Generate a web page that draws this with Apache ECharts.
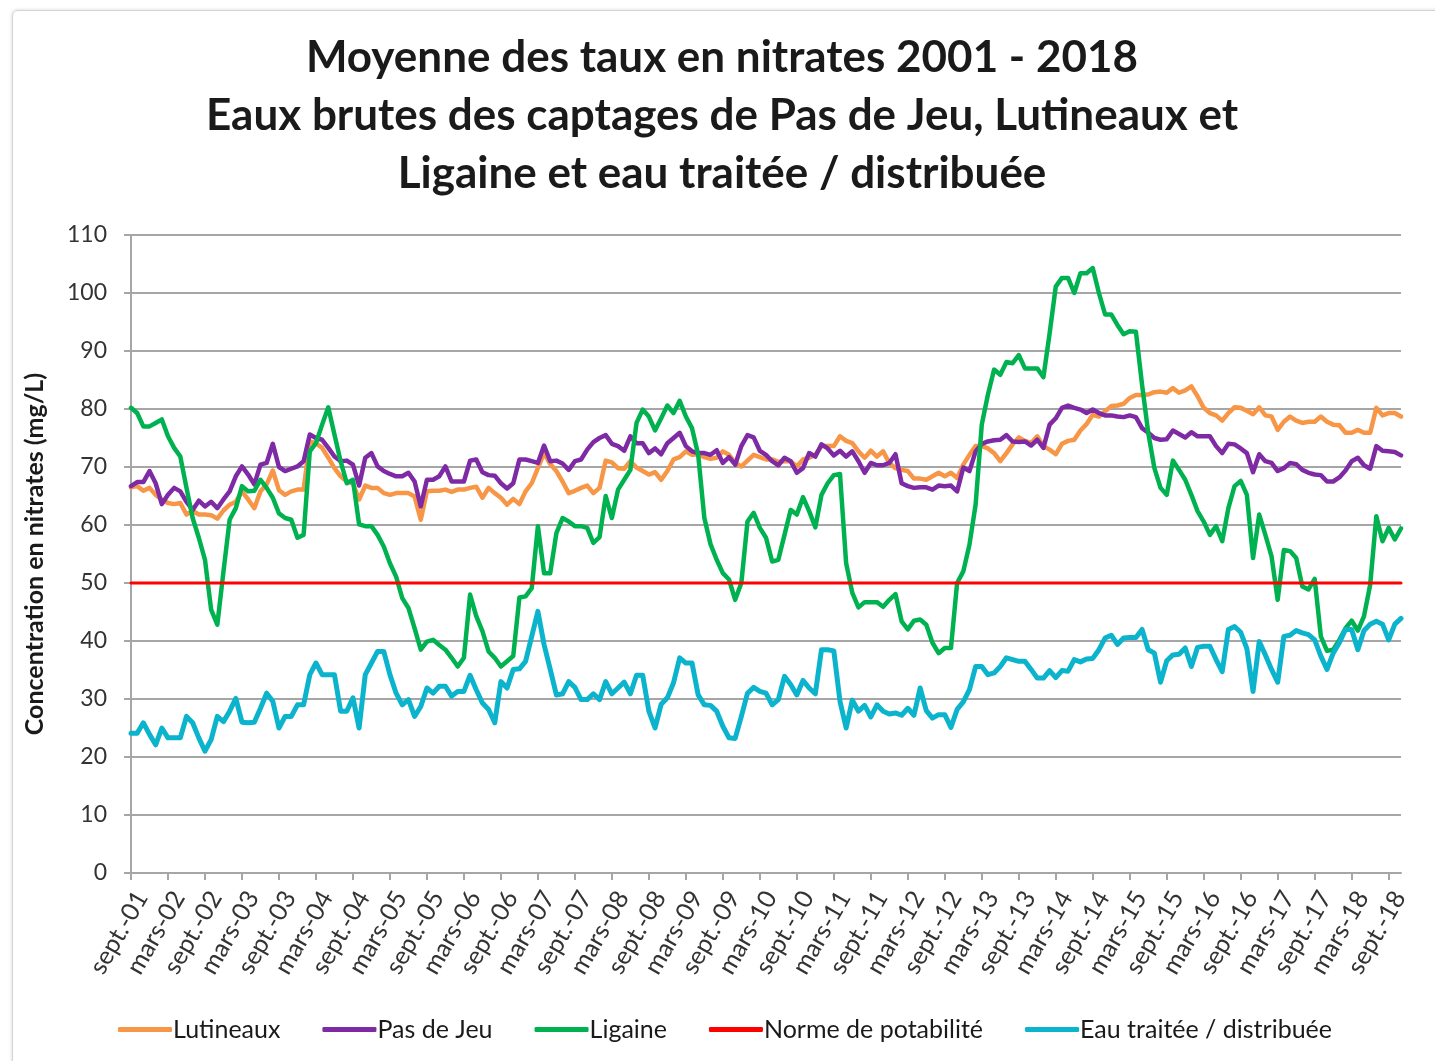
<!DOCTYPE html>
<html>
<head>
<meta charset="utf-8">
<script src="https://cdn.jsdelivr.net/npm/echarts@6/dist/echarts.min.js"></script>
<style>
    html, body { margin: 0; padding: 0; background: #fff; overflow: hidden; }
    #frame {
        position: absolute; left: 12px; top: 10px; width: 1460px; height: 1100px;
        border: 1px solid #d4d4d4; border-radius: 6px; box-shadow: -1px -1px 3px #e6e6e6;
    }
    #chart { position: absolute; left: 0; top: 0; width: 1435px; height: 1061px; }
</style>
</head>
<body>
<div id="frame"></div>
<div id="chart"></div>
<script>
// mois (format Excel fr) - premier point : sept. 2001
var moisNoms = ['janv.', 'févr.', 'mars', 'avr.', 'mai', 'juin', 'juil.', 'août', 'sept.', 'oct.', 'nov.', 'déc.'];
var debutAnnee = 2001, debutMois = 8, nbMois = 207;

var normePotabilite = 50;

var lutineaux = [
    66.5, 66.7, 65.9, 66.4, 65.2, 64.4, 63.8, 63.6, 63.8, 61.8,
    62.4, 61.8, 61.8, 61.7, 61.1, 62.5, 63.5, 64.0, 65.8, 64.4,
    62.9, 65.8, 67.0, 69.4, 66.0, 65.2, 65.8, 66.1, 66.1, 74.4,
    74.1, 73.3, 71.6, 69.8, 68.4, 67.5, 67.2, 64.4, 66.8, 66.4,
    66.4, 65.5, 65.2, 65.5, 65.5, 65.5, 64.9, 60.9, 65.8, 65.9,
    65.9, 66.1, 65.7, 66.1, 66.1, 66.4, 66.6, 64.7, 66.4, 65.5,
    64.7, 63.5, 64.5, 63.6, 65.8, 67.2, 69.8, 72.4, 70.5, 69.3,
    67.5, 65.5, 65.9, 66.4, 66.8, 65.5, 66.4, 71.1, 70.8, 69.8,
    69.7, 71.0, 69.9, 69.3, 68.7, 69.1, 67.8, 69.3, 71.3, 71.7,
    72.7, 72.1, 72.2, 71.7, 71.4, 71.6, 72.7, 72.1, 70.7, 70.1,
    71.1, 72.1, 71.7, 71.3, 71.3, 70.9, 71.0, 71.0, 70.1, 71.3,
    71.6, 72.1, 73.6, 73.6, 73.6, 75.3, 74.5, 74.1, 72.7, 71.6,
    72.8, 71.8, 72.7, 70.7, 69.8, 69.5, 69.3, 68.0, 68.0, 67.8,
    68.4, 69.0, 68.4, 69.0, 68.1, 70.4, 72.1, 73.6, 73.6, 73.2,
    72.4, 71.0, 72.4, 73.9, 75.1, 74.5, 74.1, 75.3, 73.6, 73.0,
    72.2, 74.0, 74.5, 74.7, 76.3, 77.4, 79.0, 78.7, 79.6, 80.5,
    80.6, 80.9, 81.9, 82.4, 82.4, 82.5, 82.9, 83.0, 82.8, 83.6,
    82.8, 83.2, 83.9, 82.2, 80.2, 79.3, 78.9, 78.0, 79.3, 80.3,
    80.2, 79.7, 79.1, 80.3, 78.9, 78.7, 76.4, 77.8, 78.7, 78.0,
    77.6, 77.8, 77.8, 78.7, 77.8, 77.3, 77.2, 75.9, 75.9, 76.4,
    75.9, 75.9, 80.2, 78.9, 79.3, 79.3, 78.7
];

var pasDeJeu = [
    66.7, 67.4, 67.4, 69.3, 67.2, 63.6, 65.2, 66.4, 65.8, 64.0,
    62.6, 64.2, 63.2, 64.0, 62.9, 64.4, 65.8, 68.4, 70.1, 68.7,
    67.0, 70.4, 70.7, 74.0, 70.0, 69.3, 69.7, 70.1, 71.0, 75.6,
    75.0, 74.7, 73.3, 71.8, 71.0, 71.1, 70.4, 66.8, 71.6, 72.4,
    70.1, 69.3, 68.8, 68.4, 68.4, 69.0, 67.5, 63.2, 67.8, 67.8,
    68.4, 70.1, 67.5, 67.5, 67.5, 71.1, 71.3, 69.1, 68.6, 68.5,
    67.2, 66.3, 67.2, 71.3, 71.3, 71.0, 70.7, 73.7, 71.0, 71.1,
    70.6, 69.5, 71.0, 71.3, 73.0, 74.3, 75.0, 75.5, 74.0, 73.6,
    72.8, 75.3, 74.1, 74.1, 72.4, 73.2, 72.2, 74.1, 75.0, 75.9,
    73.6, 72.7, 72.4, 72.4, 72.1, 72.9, 70.7, 71.7, 70.4, 73.6,
    75.5, 75.1, 72.8, 72.1, 71.0, 70.3, 71.6, 71.0, 69.0, 69.8,
    72.4, 71.8, 73.9, 73.2, 72.0, 72.8, 71.8, 72.7, 71.0, 69.0,
    70.7, 70.3, 70.3, 70.7, 72.2, 67.2, 66.7, 66.4, 66.5, 66.5,
    66.1, 66.8, 66.7, 66.8, 65.8, 69.9, 69.3, 72.7, 74.0, 74.4,
    74.6, 74.7, 75.5, 74.4, 74.3, 74.4, 73.7, 74.7, 73.3, 77.3,
    78.4, 80.2, 80.6, 80.2, 79.9, 79.3, 79.9, 79.3, 78.9, 78.9,
    78.7, 78.6, 78.9, 78.6, 76.7, 75.9, 75.0, 74.7, 74.8, 76.3,
    75.7, 75.1, 76.0, 75.3, 75.3, 75.3, 73.6, 72.4, 74.0, 73.9,
    73.2, 72.4, 69.1, 72.2, 71.0, 70.7, 69.3, 69.8, 70.7, 70.5,
    69.5, 69.0, 68.7, 68.6, 67.5, 67.5, 68.2, 69.4, 71.0, 71.6,
    70.3, 69.7, 73.6, 72.8, 72.7, 72.6, 72.0
];

var ligaine = [
    80.2, 79.3, 77.0, 77.0, 77.6, 78.2, 75.3, 73.3, 71.8, 66.4,
    61.2, 57.8, 54.0, 45.4, 42.8, 52.0, 60.9, 62.9, 66.7, 65.8,
    65.9, 67.8, 66.4, 64.7, 62.0, 61.2, 60.9, 57.8, 58.3, 72.7,
    74.1, 77.3, 80.3, 75.6, 71.0, 67.2, 67.8, 60.1, 59.8, 59.8,
    58.3, 56.3, 53.4, 51.1, 47.4, 45.7, 42.2, 38.5, 39.9, 40.2,
    39.3, 38.5, 37.1, 35.6, 37.1, 48.0, 44.3, 41.7, 38.2, 37.1,
    35.6, 36.5, 37.4, 47.5, 47.7, 49.1, 59.8, 51.7, 51.7, 58.6,
    61.2, 60.6, 59.8, 59.8, 59.5, 56.9, 57.9, 65.0, 61.2, 66.1,
    67.8, 69.5, 77.6, 79.9, 78.7, 76.3, 78.4, 80.6, 79.3, 81.4,
    78.7, 76.7, 72.1, 61.2, 56.7, 54.0, 51.7, 50.6, 47.1, 50.0,
    60.6, 62.1, 59.5, 57.8, 53.7, 54.0, 58.3, 62.6, 61.8, 64.8,
    62.4, 59.6, 65.2, 67.2, 68.6, 68.8, 53.4, 48.3, 45.8, 46.7,
    46.7, 46.7, 45.9, 47.1, 48.1, 43.4, 42.0, 43.5, 43.7, 42.8,
    39.7, 37.9, 38.8, 38.8, 50.0, 52.0, 56.6, 63.5, 77.3, 82.5,
    86.8, 85.9, 88.1, 87.9, 89.3, 87.0, 87.0, 87.0, 85.5, 93.0,
    101.1, 102.6, 102.6, 100.0, 103.4, 103.4, 104.3, 100.0, 96.3, 96.3,
    94.5, 92.9, 93.4, 93.3, 84.2, 75.9, 69.8, 66.4, 65.2, 71.1,
    69.5, 67.8, 65.2, 62.4, 60.6, 58.3, 59.8, 57.2, 62.9, 66.7,
    67.6, 65.2, 54.3, 61.8, 58.3, 54.6, 47.1, 55.7, 55.5, 54.3,
    49.4, 48.9, 50.7, 40.8, 38.3, 38.5, 40.2, 42.2, 43.5, 41.8,
    44.3, 49.7, 61.5, 57.2, 59.5, 57.5, 59.4
];

var eauTraitee = [
    24.1, 24.1, 25.9, 23.9, 22.1, 25.0, 23.3, 23.3, 23.3, 27.0,
    25.9, 23.3, 21.0, 23.0, 27.0, 26.1, 27.9, 30.1, 26.0, 25.9,
    26.0, 28.4, 31.0, 29.6, 25.0, 27.0, 27.0, 29.0, 29.0, 34.2,
    36.2, 34.2, 34.2, 34.2, 27.9, 27.9, 30.2, 25.0, 34.2, 36.2,
    38.2, 38.2, 34.2, 31.0, 29.0, 29.9, 27.0, 28.7, 31.9, 31.0,
    32.2, 32.2, 30.5, 31.3, 31.3, 34.1, 31.6, 29.3, 28.2, 25.9,
    33.0, 31.9, 35.1, 35.2, 36.5, 40.8, 45.1, 39.4, 35.1, 30.7,
    30.9, 33.0, 32.0, 29.9, 29.9, 30.9, 29.9, 33.0, 30.9, 31.9,
    32.9, 30.9, 34.1, 34.1, 27.9, 25.0, 29.1, 30.2, 32.8, 37.1,
    36.2, 36.2, 30.7, 29.0, 28.9, 27.9, 25.3, 23.3, 23.2, 27.0,
    31.0, 32.0, 31.3, 31.0, 29.0, 29.9, 33.9, 32.5, 30.7, 33.2,
    31.9, 30.9, 38.5, 38.5, 38.3, 29.6, 25.0, 29.8, 27.9, 28.9,
    26.9, 29.0, 27.9, 27.4, 27.6, 27.2, 28.4, 27.2, 31.9, 28.0,
    26.7, 27.3, 27.3, 25.1, 28.2, 29.5, 31.6, 35.6, 35.6, 34.2,
    34.5, 35.6, 37.1, 36.8, 36.5, 36.5, 35.1, 33.6, 33.6, 34.9,
    33.7, 34.9, 34.8, 36.8, 36.4, 36.9, 37.0, 38.5, 40.5, 41.0,
    39.4, 40.5, 40.6, 40.6, 42.0, 38.5, 37.9, 32.9, 36.6, 37.6,
    37.7, 38.8, 35.6, 38.9, 39.1, 39.1, 36.8, 34.7, 42.0, 42.5,
    41.5, 38.7, 31.3, 39.9, 37.6, 35.1, 32.9, 40.8, 41.0, 41.8,
    41.4, 41.1, 40.2, 37.4, 35.1, 37.9, 39.7, 42.0, 42.0, 38.5,
    41.8, 42.9, 43.4, 42.9, 40.2, 42.9, 43.9
];

var titreLignes = [
    'Moyenne des taux en nitrates 2001 - 2018',
    'Eaux brutes des captages de Pas de Jeu, Lutineaux et',
    'Ligaine et eau traitée / distribuée'
];

var categories = [];
for (var k = 0; k < nbMois; k++) {
    var m = (debutMois + k) % 12;
    var a = debutAnnee + Math.floor((debutMois + k) / 12);
    categories.push(moisNoms[m] + '-' + String(a).slice(2));
}
var norme = categories.map(function () { return normePotabilite; });

var police = 'Lato, "Open Sans", sans-serif';
var gris = '#a6a6a6';

var chart = echarts.init(document.getElementById('chart'));

var ligne = function (name, data, color, width) {
    return {
        name: name,
        type: 'line',
        data: data,
        symbol: 'none',
        showSymbol: false,
        animation: false,
        lineStyle: { color: color, width: width, cap: 'round', join: 'round' },
        itemStyle: { color: color }
    };
};

var option = {
    backgroundColor: 'transparent',
    textStyle: { fontFamily: police },
    graphic: titreLignes.map(function (t, i) {
        return {
            type: 'text',
            x: 722,
            y: 58 + i * 58,
            style: {
                text: t,
                textAlign: 'center',
                textVerticalAlign: 'middle',
                fontFamily: police,
                fontWeight: 'bold',
                fontSize: 44,
                fill: '#1a1a1a'
            }
        };
    }),
    grid: { left: 131, right: 34, top: 235, bottom: 188 },
    legend: {
        left: 113,
        top: 1012,
        icon: 'roundRect',
        itemWidth: 54,
        itemHeight: 5,
        itemGap: 42,
        textStyle: { fontSize: 25, color: '#1a1a1a', fontFamily: police, padding: [0, 0, 0, -4] },
        data: ['Lutineaux', 'Pas de Jeu', 'Ligaine', 'Norme de potabilité', 'Eau traitée / distribuée']
    },
    xAxis: {
        type: 'category',
        boundaryGap: false,
        data: categories,
        axisLine: { lineStyle: { color: gris, width: 2 } },
        axisTick: { show: true, interval: 5, length: 7, lineStyle: { color: gris, width: 2 } },
        axisLabel: {
            interval: 5,
            rotate: 60,
            fontSize: 25,
            color: '#333',
            fontFamily: police,
            verticalAlign: 'top',
            margin: 14
        },
        splitLine: { show: false }
    },
    yAxis: {
        type: 'value',
        min: 0,
        max: 110,
        interval: 10,
        name: 'Concentration en nitrates (mg/L)',
        nameLocation: 'middle',
        nameRotate: 90,
        nameGap: 84,
        nameTextStyle: { fontSize: 25, fontWeight: 'bold', color: '#1a1a1a', fontFamily: police },
        axisLine: { show: true, lineStyle: { color: gris, width: 2 } },
        axisTick: { show: true, length: 7, lineStyle: { color: gris, width: 2 } },
        axisLabel: { fontSize: 23, color: '#333', margin: 24, fontFamily: police },
        splitLine: { lineStyle: { color: gris, width: 2 } }
    },
    series: [
        ligne('Lutineaux', lutineaux, '#f79646', 4.5),
        ligne('Pas de Jeu', pasDeJeu, '#7f2aa5', 4.5),
        ligne('Ligaine', ligaine, '#00b24f', 4.5),
        ligne('Norme de potabilité', norme, '#ff0000', 3),
        ligne('Eau traitée / distribuée', eauTraitee, '#0bb4cc', 5)
    ]
};

chart.setOption(option);
</script>
</body>
</html>
